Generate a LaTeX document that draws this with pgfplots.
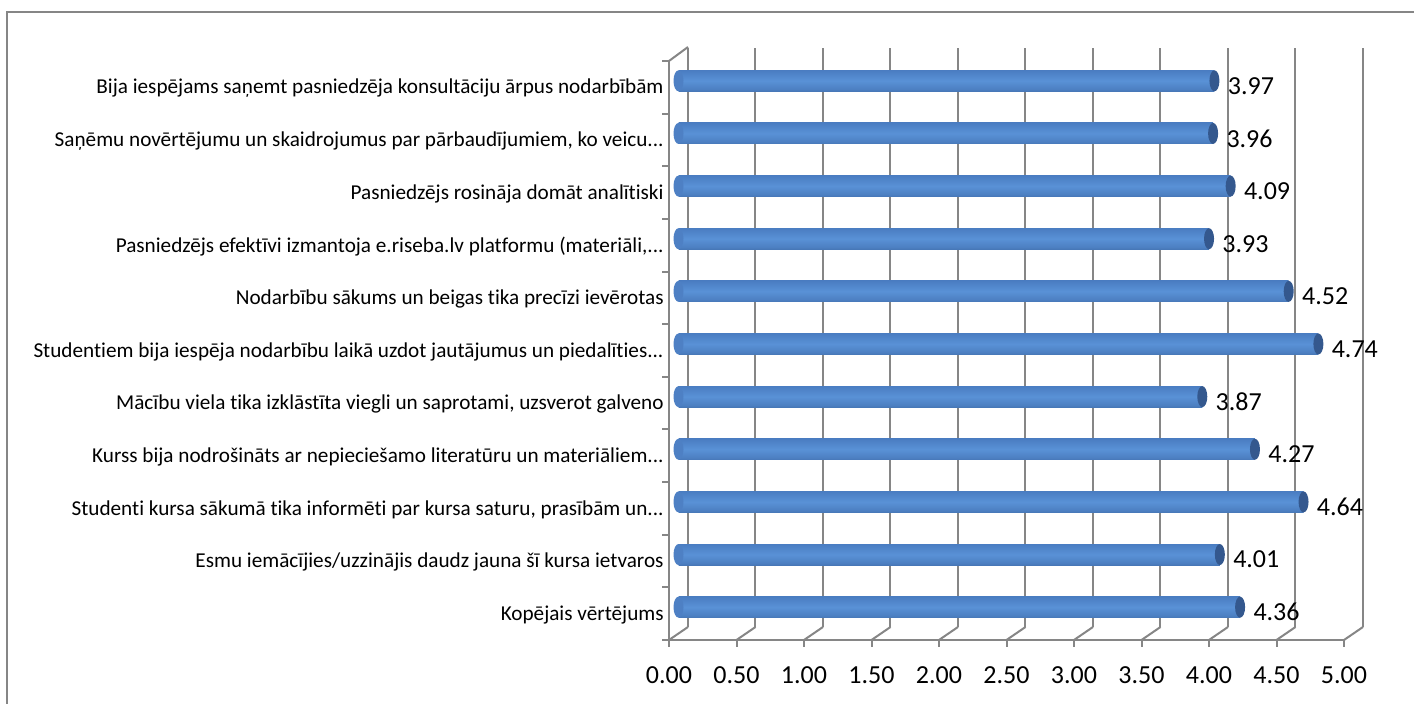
\documentclass[border=0pt]{standalone}
\usepackage{pgfplots}
\pgfplotsset{compat=1.18}
\usepackage{fontspec}
\setmainfont{Carlito}[Ligatures={NoCommon}]
\definecolor{gridgray}{RGB}{134,134,134}
\definecolor{capR}{RGB}{52,88,142}
\definecolor{capL}{RGB}{78,128,196}
\pgfdeclareverticalshading{cyl}{100bp}{
  rgb(0bp)=(0.16,0.29,0.47);
  rgb(12bp)=(0.22,0.38,0.60);
  rgb(30bp)=(0.30,0.50,0.76);
  rgb(50bp)=(0.35,0.57,0.84);
  rgb(75bp)=(0.29,0.49,0.76);
  rgb(94bp)=(0.25,0.44,0.71);
  rgb(100bp)=(0.42,0.60,0.84)}
\newcommand{\tdots}{.\kern0pt.\kern0pt.}
\pgfdeclareplotmark{capmark}{\pgfpathellipse{\pgfpointorigin}{\pgfpoint{2.5pt}{0pt}}{\pgfpoint{0pt}{5.25pt}}\pgfusepath{fill}}
\begin{document}
\begin{tikzpicture}
\useasboundingbox (0,0) rectangle (707pt,352pt);
\draw[gridgray, line width=0.75pt] (3.5pt,0pt) -- (3.5pt,346pt) -- (707pt,346pt);
\pgfplotsset{walls/.style={width=337.5pt,height=289.5pt,scale only axis,
  xmin=0,xmax=5,ymin=-0.5,ymax=10.5,clip=false}}
% back wall
\begin{axis}[walls, at={(344pt,38.5pt)}, anchor=south west,
  axis line style={draw=none}, major tick length=0pt,
  xtick={0,0.5,1,1.5,2,2.5,3,3.5,4,4.5,5}, xticklabels={},
  xmajorgrids, grid style={gridgray,line width=1pt},
  ytick={0,1,2,3,4,5,6,7,8,9,10},
  yticklabel style={anchor=east, inner sep=0pt, xshift=-12pt, yshift=-7pt, font=\fontsize{10.6}{13}\selectfont},
  yticklabels={{Kopējais vērtējums\hspace{8pt}},
    {Esmu iemācījies/uzzinājis daudz jauna šī kursa ietvaros\hspace{8pt}},
    {Studenti kursa sākumā tika informēti par kursa saturu, prasībām un\tdots},
    {Kurss bija nodrošināts ar nepieciešamo literatūru un materiāliem\tdots},
    {Mācību viela tika izklāstīta viegli un saprotami, uzsverot galveno\hspace{8pt}},
    {Studentiem bija iespēja nodarbību laikā uzdot jautājumus un piedalīties\tdots},
    {Nodarbību sākums un beigas tika precīzi ievērotas\hspace{8pt}},
    {Pasniedzējs efektīvi izmantoja e.riseba.lv platformu (materiāli,\tdots},
    {Pasniedzējs rosināja domāt analītiski\hspace{8pt}},
    {Saņēmu novērtējumu un skaidrojumus par pārbaudījumiem, ko veicu\tdots},
    {Bija iespējams saņemt pasniedzēja konsultāciju ārpus nodarbībām\hspace{8pt}}},
  ]
\end{axis}
% bars (middle depth)
\begin{axis}[walls, at={(339.25pt,35.25pt)}, anchor=south west, hide axis,
  cyl/.style={xbar, bar width=10.5pt, draw=none, shading=cyl,
  point meta=explicit symbolic, nodes near coords,
  nodes near coords style={anchor=west, inner sep=0pt, xshift=6.5pt, yshift=-2.5pt, text=black, font=\fontsize{13}{15}\selectfont}}]
\addplot[only marks, mark=capmark, color=capL] coordinates {
  (0,0) (0,1) (0,2) (0,3) (0,4) (0,5) (0,6) (0,7) (0,8) (0,9) (0,10)};
\addplot[cyl] coordinates {(4.16,0) [4.36]};
\addplot[cyl] coordinates {(4.01,1) [4.01]};
\addplot[cyl] coordinates {(4.63,2) [4.64]};
\addplot[cyl] coordinates {(4.27,3) [4.27]};
\addplot[cyl] coordinates {(3.88,4) [3.87]};
\addplot[cyl] coordinates {(4.74,5) [4.74]};
\addplot[cyl] coordinates {(4.52,6) [4.52]};
\addplot[cyl] coordinates {(3.93,7) [3.93]};
\addplot[cyl] coordinates {(4.09,8) [4.09]};
\addplot[cyl] coordinates {(3.96,9) [3.96]};
\addplot[cyl] coordinates {(3.97,10) [3.97]};
\addplot[only marks, mark=capmark, color=capR] coordinates {
  (4.16,0) (4.01,1) (4.63,2) (4.27,3) (3.88,4) (4.74,5) (4.52,6) (3.93,7) (4.09,8) (3.96,9) (3.97,10)};
\end{axis}
% front edges
\begin{axis}[walls, at={(334.5pt,32pt)}, anchor=south west,
  axis x line*=bottom, axis y line*=left,
  axis line style={gridgray,line width=1pt,-},
  tick style={gridgray,line width=1pt}, tick align=outside, major tick length=3.5pt,
  xtick={0,0.5,1,1.5,2,2.5,3,3.5,4,4.5,5},
  xticklabel style={anchor=north, inner sep=0pt, yshift=-9.5pt, font=\fontsize{13}{15}\selectfont},
  /pgf/number format/.cd, fixed, fixed zerofill, precision=2, assume math mode=true, /pgfplots/.cd,
  ytick={-0.5,0.5,1.5,2.5,3.5,4.5,5.5,6.5,7.5,8.5,9.5,10.5}, yticklabels={},
  ]
\pgfplotsinvokeforeach{0,0.5,1,1.5,2,2.5,3,3.5,4,4.5,5}{
  \draw[gridgray,line width=1pt] (axis cs:#1,-0.5) -- ++(9.5pt,6.5pt);
}
\draw[gridgray,line width=1pt] (axis cs:0,10.5) -- ++(9.5pt,7pt);
\end{axis}
\end{tikzpicture}
\end{document}
